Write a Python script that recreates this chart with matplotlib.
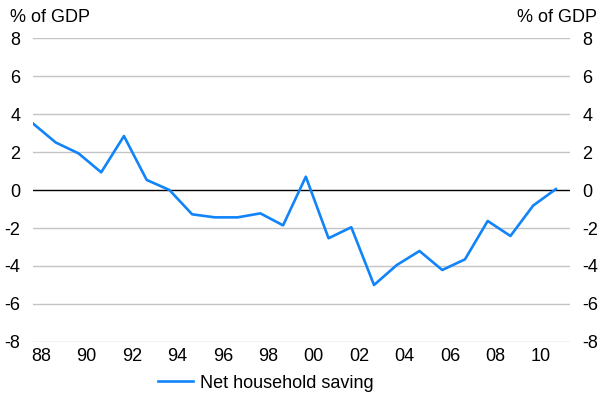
import numpy as np
import matplotlib
matplotlib.use("Agg")
import matplotlib.pyplot as plt
from matplotlib import font_manager

names = {f.name for f in font_manager.fontManager.ttflist}
narrow = 'Liberation Sans Narrow' in names
plt.rcParams['font.family'] = (['Liberation Sans Narrow'] if narrow else []) + ['Liberation Sans', 'DejaVu Sans']
plt.rcParams['axes.unicode_minus'] = False

# Net household saving, % of GDP, financial years ending 1988..2011
years = np.arange(1988, 2012)
saving = [3.5, 2.5, 1.93, 0.93, 2.84, 0.53, 0.0, -1.28, -1.44, -1.44, -1.23, -1.86,
          0.70, -2.54, -1.96, -5.0, -3.95, -3.21, -4.21, -3.65, -1.63, -2.42, -0.82, 0.05]
tick_years = np.arange(1988, 2012, 2)
tick_labels = ['88', '90', '92', '94', '96', '98', '00', '02', '04', '06', '08', '10']
yticks = np.arange(-8, 9, 2)

blue = '#1084F8'
grid_grey = '#C4C4C4'
fs = 15 if narrow else 13

fig = plt.figure(figsize=(6.03, 4.01), dpi=100)
ax = fig.add_axes([33 / 603, 59 / 401, 537 / 603, 304 / 401])

for v in yticks:
    if v != 0:
        ax.axhline(v, color=grid_grey, lw=1.0, zorder=1)
ax.axhline(0, color='black', lw=1.0, zorder=2)

line, = ax.plot(years, saving, color=blue, lw=1.9, zorder=3, label='Net household saving')

ax.set_xlim(1988, 2011.62)
ax.set_ylim(-8, 8)
ax.set_xticks(tick_years + 0.35)
ax.set_xticklabels(tick_labels)
ax.set_yticks(yticks)
ax.tick_params(axis='both', length=0, labelsize=fs)
ax.tick_params(axis='y', pad=9, labelright=True, right=False)
ax.tick_params(axis='x', pad=4)
for side in ['top', 'bottom', 'left', 'right']:
    ax.spines[side].set_visible(False)

fig.text(10 / 603, 1 - 17 / 401, '% of GDP', fontsize=fs, ha='left', va='center')
fig.text(597 / 603, 1 - 17 / 401, '% of GDP', fontsize=fs, ha='right', va='center')

fig.legend(handles=[line], loc='center', bbox_to_anchor=(266 / 603, 1 - 383 / 401),
           frameon=False, fontsize=fs, handlelength=1.9, handletextpad=0.4)

fig.savefig('out.png', dpi=100)
